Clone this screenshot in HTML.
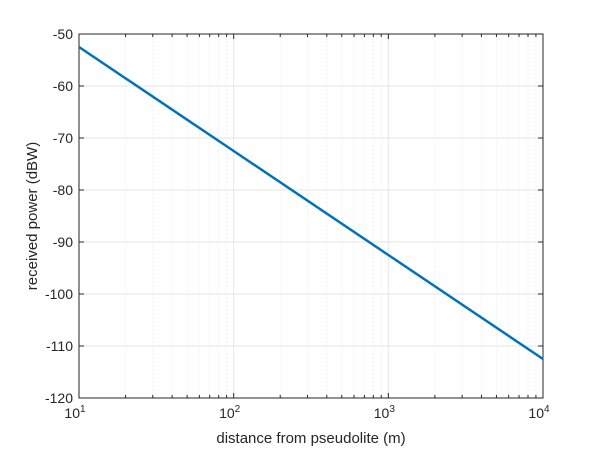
<!DOCTYPE html>
<html><head><meta charset="utf-8"><style>body{margin:0;background:#fff}svg{display:block;font-family:"Liberation Sans",sans-serif}</style></head>
<body>
<svg id="c" width="600" height="450"></svg>
<script>
const xData=[10,100,1000,10000];
const yData=[-52.5,-72.5,-92.5,-112.5];
const yTicks=[-50,-60,-70,-80,-90,-100,-110,-120];
const xTickExp=[1,2,3,4];
const L=79,R=543,T=34,B=398;
const xs=v=>L+(Math.log10(v)-1)/3*(R-L);
const ys=v=>T+(-50-v)/70*(B-T);
const s=document.getElementById('c');
const NS='http://www.w3.org/2000/svg';
function mk(t,a,p){const e=document.createElementNS(NS,t);for(const k in a)e.setAttribute(k,a[k]);(p||s).appendChild(e);return e;}
const bg=mk('rect',{x:L,y:T,width:R-L,height:B-T,fill:'#fff'});


for(let d=1;d<4;d++)for(let m=2;m<10;m++){const x=xs(m*Math.pow(10,d));const g=mk('line',{x1:x,x2:x,y1:T,y2:B,stroke:'#e2e2e2','stroke-dasharray':'1,3'});

}
xTickExp.forEach(e=>{const x=xs(Math.pow(10,e));const g=mk('line',{x1:x,x2:x,y1:T,y2:B,stroke:'#e6e6e6'});


mk('line',{x1:x,x2:x,y1:B,y2:B-5,stroke:'#262626'});mk('line',{x1:x,x2:x,y1:T,y2:T+5,stroke:'#262626'});
const t=mk('text',{x:x-4,y:B+20,'text-anchor':'middle','font-size':14,fill:'#262626'});t.textContent='10';
const sp=mk('tspan',{dy:-6,'font-size':10},t);sp.textContent=e;

});
for(let d=1;d<4;d++)for(let m=2;m<10;m++){const x=xs(m*Math.pow(10,d));mk('line',{x1:x,x2:x,y1:B,y2:B-3,stroke:'#262626'});mk('line',{x1:x,x2:x,y1:T,y2:T+3,stroke:'#262626'});}
yTicks.forEach(v=>{const y=ys(v);const g=mk('line',{x1:L,x2:R,y1:y,y2:y,stroke:'#e6e6e6'});


mk('line',{x1:L,x2:L+5,y1:y,y2:y,stroke:'#262626'});mk('line',{x1:R,x2:R-5,y1:y,y2:y,stroke:'#262626'});
const t=mk('text',{x:L-6,y:y+5,'text-anchor':'end','font-size':14,fill:'#262626'});t.textContent=v;

});
const fr=mk('rect',{x:L,y:T,width:R-L,height:B-T,fill:'none',stroke:'#262626'});


const pl=mk('polyline',{points:xData.map((v,i)=>xs(v)+','+ys(yData[i])).join(' '),fill:'none',stroke:'#0072bd','stroke-width':2.5});


const xl=mk('text',{x:(L+R)/2,y:443,'text-anchor':'middle','font-size':15,fill:'#262626'});xl.textContent='distance from pseudolite (m)';


const yl=mk('text',{x:0,y:0,'text-anchor':'middle','font-size':15,fill:'#262626',transform:'translate(37,'+((T+B)/2)+') rotate(-90)'});yl.textContent='received power (dBW)';


</script>
</body></html>
